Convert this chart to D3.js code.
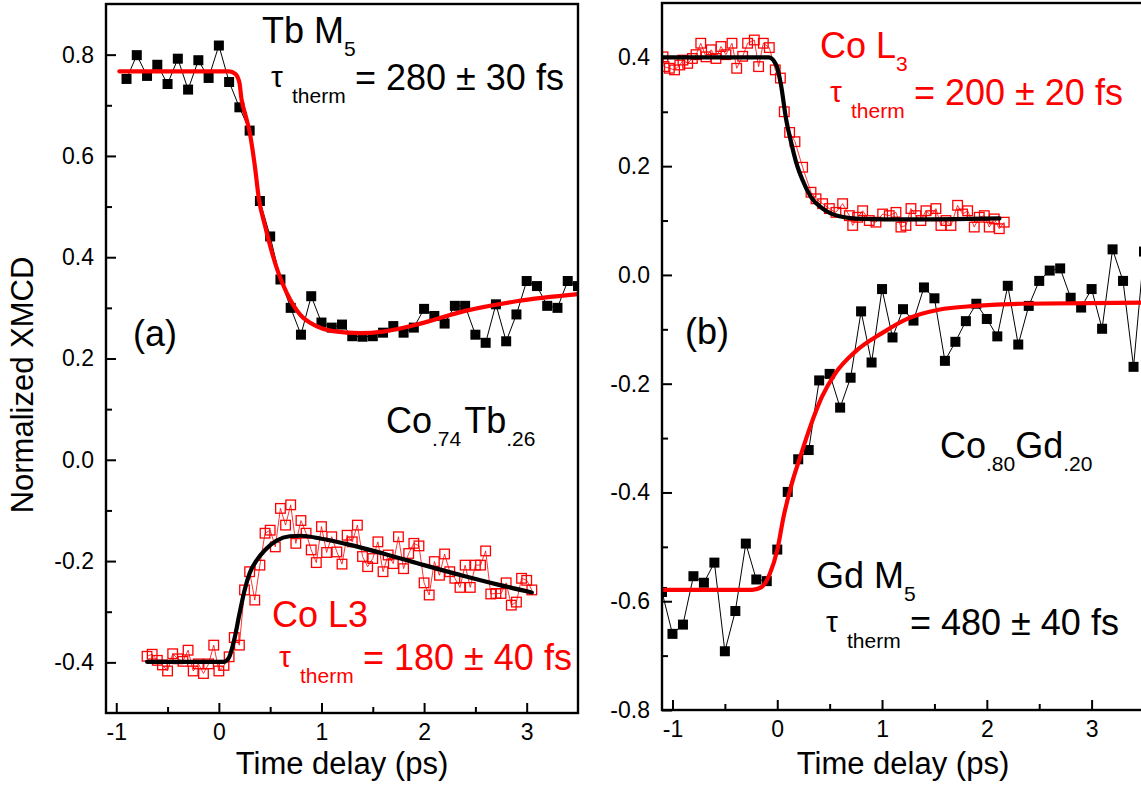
<!DOCTYPE html>
<html>
<head>
<meta charset="utf-8">
<script src="https://cdn.jsdelivr.net/npm/d3@7"></script>
<style>
  html, body { margin: 0; padding: 0; background: #fff; }
  svg { display: block; font-family: "Liberation Sans", Arial, sans-serif; }
</style>
</head>
<body>
<svg id="chart" width="1141" height="791"></svg>
<script>
// ---------- Panel (a): Co.74Tb.26 ----------
const tbTime = [-0.9,-0.8,-0.7,-0.6,-0.5,-0.4,-0.3,-0.2,-0.1,0.0,0.1,0.2,0.3,0.4,0.5,0.6,0.7,0.8,0.9,1.0,
  1.1,1.2,1.3,1.4,1.5,1.6,1.7,1.8,1.9,2.0,2.1,2.2,2.3,2.4,2.5,2.6,2.7,2.8,2.9,3.0,3.1,3.2,3.3,3.4,3.5];
const tbXmcd = [0.752,0.799,0.758,0.780,0.742,0.792,0.731,0.789,0.754,0.818,0.746,0.696,0.650,0.511,0.441,
  0.356,0.300,0.247,0.323,0.271,0.261,0.267,0.244,0.243,0.244,0.251,0.264,0.251,0.261,0.298,0.284,0.269,
  0.304,0.304,0.247,0.231,0.307,0.234,0.287,0.353,0.343,0.304,0.300,0.353,0.343];
const tbFitTime = [-0.97,0.10,0.16,0.20,0.22,0.26,0.30,0.35,0.39,0.45,0.50,0.58,0.66,0.79,0.95,1.11,1.38,1.60,1.93,2.40,2.90,3.50];
const tbFitXmcd = [0.767,0.767,0.762,0.745,0.713,0.680,0.647,0.581,0.515,0.462,0.422,0.369,0.330,0.287,0.264,0.254,0.250,0.253,0.267,0.294,0.313,0.327];

const coATime = [-0.70,-0.65,-0.60,-0.55,-0.50,-0.45,-0.40,-0.35,-0.30,-0.25,-0.20,-0.15,-0.10,-0.05,0.00,0.05,
  0.10,0.15,0.20,0.25,0.30,0.35,0.40,0.45,0.50,0.55,0.60,0.65,0.70,0.75,0.80,0.85,0.90,0.95,1.00,1.05,1.10,
  1.15,1.20,1.25,1.30,1.35,1.40,1.45,1.50,1.55,1.60,1.65,1.70,1.75,1.80,1.85,1.90,1.95,2.00,2.05,2.10,2.15,
  2.20,2.25,2.30,2.35,2.40,2.45,2.50,2.55,2.60,2.65,2.70,2.75,2.80,2.85,2.90,2.95,3.00,3.05];
const coAXmcd = [-0.388,-0.384,-0.396,-0.405,-0.417,-0.383,-0.393,-0.398,-0.376,-0.417,-0.403,-0.422,-0.403,-0.366,
  -0.417,-0.406,-0.389,-0.351,-0.366,-0.257,-0.221,-0.277,-0.208,-0.145,-0.139,-0.172,-0.096,-0.129,-0.089,-0.165,
  -0.120,-0.145,-0.178,-0.203,-0.132,-0.183,-0.152,-0.182,-0.206,-0.149,-0.162,-0.129,-0.191,-0.211,-0.195,-0.162,
  -0.221,-0.188,-0.205,-0.152,-0.215,-0.185,-0.165,-0.170,-0.243,-0.267,-0.201,-0.228,-0.186,-0.221,-0.234,-0.252,
  -0.208,-0.252,-0.208,-0.208,-0.180,-0.265,-0.264,-0.264,-0.243,-0.287,-0.281,-0.234,-0.238,-0.257];
const coAFitTime = [-0.70,0.05,0.10,0.15,0.20,0.25,0.30,0.37,0.45,0.56,0.69,0.80,1.00,1.28,1.60,2.00,2.38,2.71,3.05];
const coAFitXmcd = [-0.399,-0.399,-0.390,-0.355,-0.305,-0.258,-0.224,-0.198,-0.178,-0.160,-0.151,-0.150,-0.156,-0.168,-0.185,-0.208,-0.229,-0.246,-0.262];

// ---------- Panel (b): Co.80Gd.20 ----------
const coBTime = [-1.09,-1.08,-1.03,-0.98,-0.93,-0.90,-0.855,-0.81,-0.775,-0.73,-0.68,-0.63,-0.585,-0.537,-0.49,
  -0.432,-0.387,-0.33,-0.283,-0.219,-0.178,-0.133,-0.076,-0.019,0.03,0.067,0.118,0.169,0.242,0.322,0.37,0.433,
  0.497,0.56,0.624,0.688,0.72,0.767,0.815,0.878,0.942,1.006,1.069,1.133,1.18,1.228,1.276,1.324,1.371,1.419,
  1.467,1.514,1.562,1.61,1.658,1.721,1.769,1.817,1.88,1.928,1.976,2.023,2.071,2.119,2.166];
const coBXmcd = [0.401,0.383,0.380,0.377,0.386,0.395,0.389,0.398,0.405,0.426,0.401,0.414,0.398,0.420,0.405,
  0.426,0.380,0.402,0.426,0.432,0.383,0.426,0.418,0.377,0.362,0.300,0.262,0.245,0.198,0.152,0.140,0.131,
  0.122,0.115,0.131,0.109,0.091,0.106,0.118,0.100,0.097,0.112,0.109,0.115,0.088,0.091,0.122,0.109,0.100,
  0.118,0.109,0.122,0.091,0.100,0.091,0.128,0.112,0.118,0.088,0.106,0.109,0.088,0.103,0.085,0.097];
const coBFitTime = [-1.10,-0.08,-0.01,0.036,0.083,0.131,0.179,0.242,0.322,0.433,0.592,0.815,1.20,2.12];
const coBFitXmcd = [0.400,0.400,0.386,0.349,0.288,0.245,0.208,0.174,0.143,0.122,0.108,0.103,0.102,0.104];

const gdTime = [-1.1,-1.0,-0.9,-0.8,-0.7,-0.6,-0.5,-0.4,-0.3,-0.2,-0.1,0.0,0.1,0.2,0.3,0.4,0.5,0.6,0.7,0.8,0.9,
  1.0,1.1,1.2,1.3,1.4,1.5,1.6,1.7,1.8,1.9,2.0,2.1,2.2,2.3,2.4,2.5,2.6,2.7,2.8,2.9,3.0,3.1,3.2,3.3,3.4,3.5];
const gdXmcd = [-0.583,-0.660,-0.643,-0.554,-0.566,-0.529,-0.692,-0.618,-0.494,-0.560,-0.563,-0.505,-0.399,
  -0.339,-0.322,-0.194,-0.182,-0.244,-0.189,-0.067,-0.161,-0.026,-0.115,-0.063,-0.084,-0.023,-0.043,-0.158,
  -0.123,-0.085,-0.053,-0.081,-0.113,-0.020,-0.128,-0.057,-0.011,0.008,0.012,-0.042,-0.060,-0.026,-0.099,
  0.047,-0.011,-0.169,0.043];
const gdFitTime = [-1.10,-0.24,-0.15,-0.07,0.00,0.06,0.14,0.22,0.315,0.427,0.554,0.745,1.00,1.25,1.54,1.89,2.335,3.50];
const gdFitXmcd = [-0.579,-0.579,-0.574,-0.549,-0.506,-0.445,-0.383,-0.334,-0.279,-0.224,-0.181,-0.141,-0.107,-0.080,-0.064,-0.057,-0.053,-0.051];

// ---------- Axis ticks ----------
const xMajor = [-1, 0, 1, 2, 3];
const xMinor = [-0.5, 0.5, 1.5, 2.5];
const yMajorA = [-0.4, -0.2, 0.0, 0.2, 0.4, 0.6, 0.8];
const yMinorA = [-0.3, -0.1, 0.1, 0.3, 0.5, 0.7];
const yMajorB = [-0.8, -0.6, -0.4, -0.2, 0.0, 0.2, 0.4];
const yMinorB = [-0.7, -0.5, -0.3, -0.1, 0.1, 0.3];

const RED = "#ff0000";
const BIG = 36;     // annotation font size
const SMALL = 21;   // subscript font size
const TICK = 23;    // tick label font size
const svg = d3.select("#chart");
const zip = (xs, ys) => xs.map((x, i) => [x, ys[i]]);

function panel(id, xs, ys, yMajor, yMinor) {
  const [x0, x1] = xs.range();
  const [y0, y1] = ys.range();
  const g = svg.append("g");
  svg.append("clipPath").attr("id", id)
    .append("rect").attr("x", x0).attr("y", y1).attr("width", x1 - x0).attr("height", y0 - y1);
  const plot = g.append("g").attr("clip-path", `url(#${id})`);

  const fmt = d => d3.format(".1f")(d).replace("\u2212", "-");
  const ax = (gen) => {
    const a = g.append("g").call(gen);
    a.select(".domain").remove();
    a.selectAll("line").attr("stroke", "#000").attr("stroke-width", 2);
    a.selectAll("text").attr("fill", "#000").attr("font-size", TICK)
      .attr("font-family", "Liberation Sans, Arial, sans-serif");
    return a;
  };
  ax(d3.axisBottom(xs).tickValues(xMajor).tickSize(-10).tickPadding(11).tickFormat(d => String(d)))
    .attr("transform", `translate(0,${y0})`);
  ax(d3.axisBottom(xs).tickValues(xMinor).tickSize(-6).tickFormat(""))
    .attr("transform", `translate(0,${y0})`);
  ax(d3.axisLeft(ys).tickValues(yMajor).tickSize(-10).tickPadding(12).tickFormat(fmt))
    .attr("transform", `translate(${x0},0)`);
  ax(d3.axisLeft(ys).tickValues(yMinor).tickSize(-6).tickFormat(""))
    .attr("transform", `translate(${x0},0)`);

  // frame
  g.append("rect").attr("x", x0).attr("y", y1).attr("width", x1 - x0).attr("height", y0 - y1)
    .attr("fill", "none").attr("stroke", "#000").attr("stroke-width", 2.4);

  g.append("text").attr("x", (x0 + x1) / 2).attr("y", 774).attr("text-anchor", "middle")
    .attr("font-size", 31).text("Time delay (ps)");
  return plot;
}

function openSeries(plot, xs, ys, data) {
  plot.append("path").datum(data)
    .attr("d", d3.line().x(d => xs(d[0])).y(d => ys(d[1])))
    .attr("fill", "none").attr("stroke", RED).attr("stroke-width", 0.8);
  plot.append("g").selectAll("rect").data(data).join("rect")
    .attr("x", d => xs(d[0]) - 4.8).attr("y", d => ys(d[1]) - 4.8)
    .attr("width", 9.6).attr("height", 9.6)
    .attr("fill", "none").attr("stroke", RED).attr("stroke-width", 1.3);
}
function solidSeries(plot, xs, ys, data) {
  plot.append("path").datum(data)
    .attr("d", d3.line().x(d => xs(d[0])).y(d => ys(d[1])))
    .attr("fill", "none").attr("stroke", "#000").attr("stroke-width", 1);
  plot.append("g").selectAll("rect").data(data).join("rect")
    .attr("x", d => xs(d[0]) - 5).attr("y", d => ys(d[1]) - 5)
    .attr("width", 10).attr("height", 10).attr("fill", "#000");
}
function fitLine(plot, xs, ys, data, color) {
  plot.append("path").datum(data)
    .attr("d", d3.line().curve(d3.curveMonotoneX).x(d => xs(d[0])).y(d => ys(d[1])))
    .attr("fill", "none").attr("stroke", color).attr("stroke-width", 4.2)
    .attr("stroke-linecap", "round").attr("stroke-linejoin", "round");
}

// tau_therm label: τ, subscript "therm", then "= value"
function tauLabel(x, base, value, color) {
  const g = svg.append("g").attr("fill", color);
  g.append("text").attr("x", x).attr("y", base - 3).attr("font-size", 30).text("τ");
  g.append("text").attr("x", x + 21).attr("y", base + 13).attr("font-size", SMALL).text("therm");
  g.append("text").attr("x", x + 84).attr("y", base).attr("font-size", BIG).text(value);
}
function subLabel(x, y, parts, color) {
  const t = svg.append("text").attr("x", x).attr("y", y).attr("fill", color).attr("font-size", BIG);
  let shifted = false;
  parts.forEach(([s, sub, dx]) => {
    const dy = sub && !shifted ? 13 : (!sub && shifted ? -13 : 0);
    shifted = sub;
    t.append("tspan").attr("dy", dy).attr("dx", dx || 0).attr("font-size", sub ? SMALL : BIG).text(s);
  });
}

// ---- Panel (a)
const xa = d3.scaleLinear().domain([-1.1, 3.5]).range([106, 578]);
const ya = d3.scaleLinear().domain([-0.5, 0.9]).range([713, 4]);
const pa = panel("clipA", xa, ya, yMajorA, yMinorA);
openSeries(pa, xa, ya, zip(coATime, coAXmcd));
fitLine(pa, xa, ya, zip(coAFitTime, coAFitXmcd), "#000");
solidSeries(pa, xa, ya, zip(tbTime, tbXmcd));
fitLine(pa, xa, ya, zip(tbFitTime, tbFitXmcd), RED);

// ---- Panel (b)
const xb = d3.scaleLinear().domain([-1.1, 3.5]).range([662, 1144]);
const yb = d3.scaleLinear().domain([-0.8, 0.5]).range([710, 3]);
const pb = panel("clipB", xb, yb, yMajorB, yMinorB);
openSeries(pb, xb, yb, zip(coBTime, coBXmcd));
fitLine(pb, xb, yb, zip(coBFitTime, coBFitXmcd), "#000");
solidSeries(pb, xb, yb, zip(gdTime, gdXmcd));
fitLine(pb, xb, yb, zip(gdFitTime, gdFitXmcd), RED);

// ---- Y axis title
svg.append("text").attr("transform", "translate(33,385) rotate(-90)")
  .attr("text-anchor", "middle").attr("font-size", 31).text("Normalized XMCD");

// ---- Annotations
svg.append("text").attr("x", 133).attr("y", 346).attr("font-size", BIG).text("(a)");
svg.append("text").attr("x", 685).attr("y", 344).attr("font-size", BIG).text("(b)");

subLabel(262, 43, [["Tb M", false], ["5", true]], "#000");
tauLabel(271, 90, "= 280 \u00b1 30 fs", "#000");
subLabel(386, 433, [["Co", false], [".74", true], ["Tb", false, 3], [".26", true]], "#000");
svg.append("text").attr("x", 272).attr("y", 627).attr("font-size", BIG).attr("fill", RED).text("Co L3");
tauLabel(279, 670, "= 180 \u00b1 40 fs", RED);

subLabel(820, 58, [["Co L", false], ["3", true]], RED);
tauLabel(830, 105, "= 200 \u00b1 20 fs", RED);
subLabel(940, 458, [["Co", false], [".80", true], ["Gd", false], [".20", true]], "#000");
subLabel(816, 588, [["Gd M", false], ["5", true]], "#000");
tauLabel(826, 635, "= 480 \u00b1 40 fs", "#000");
</script>
</body>
</html>
